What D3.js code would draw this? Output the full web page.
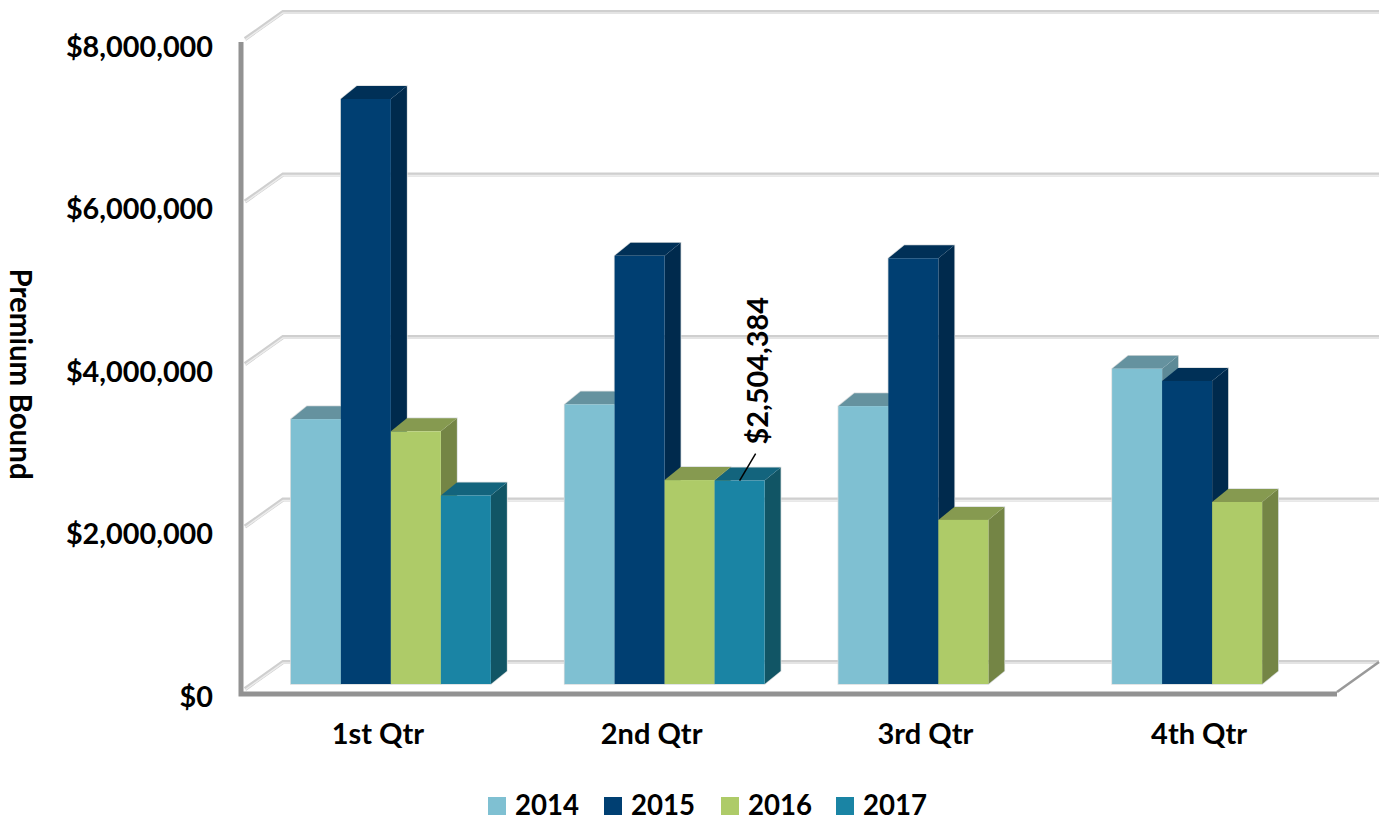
<!DOCTYPE html>
<html><head><meta charset="utf-8">
<script src="https://cdn.jsdelivr.net/npm/d3@7"></script>
<style>html,body{margin:0;padding:0;background:#fff}svg{display:block}text{font-family:Lato,"Open Sans",sans-serif;font-weight:700;fill:#000}</style>
</head><body><svg id="c" width="1385" height="821"></svg>
<script>
const categories = ["1st Qtr","2nd Qtr","3rd Qtr","4th Qtr"];
const seriesNames = ["2014","2015","2016","2017"];
const values2014 = [3260000,3440000,3420000,3880000];
const values2015 = [7200000,5270000,5240000,3730000];
const values2016 = [3110000,2510000,2020000,2240000];
const values2017 = [2320000,2504384,null,null];
const faceColors = ["#7fc0d2","#003f72","#aecb68","#1a84a4"];
const topColors = ["#65929f","#003057","#869a50","#13647d"];
const sideColors = ["#5d8a97","#002a4d","#748545","#115565"];
const yTicks = [0,2000000,4000000,6000000,8000000];

const svg = d3.select("#c");
const x = d3.scaleBand().domain(categories).range([241,1336]);
const y = d3.scaleLinear().domain([0,8000000]).range([692,42]);
const inner = d3.scaleBand().domain(seriesNames).range([0,200]);
const bandPad = (x.bandwidth()-inner.range()[1])/2;
const back = {dx:42,dy:-30}, plane = {dx:13,dy:-8}, depth = {dx:16,dy:-13};
const money = d3.format("$,");

const grid = svg.append("g").attr("fill","none");
yTicks.forEach(v=>{
  const yy=y(v);
  const d=`M${x.range()[0]+4},${yy-3}L${x.range()[0]+back.dx},${yy+back.dy}H${x.range()[1]+back.dx+1}`;
  grid.append("path").attr("d",d).attr("stroke","#cfcfcf").attr("stroke-width",4);
  grid.append("path").attr("d",d).attr("stroke","#ececec").attr("stroke-width",1.5).attr("transform","translate(0,1)");
});
const L=x.range()[0],R=x.range()[1]+1,B=y(0);
svg.append("path").attr("d",`M${R},${B}L${R+back.dx},${B+back.dy}`).attr("fill","none").attr("stroke","#999").attr("stroke-width",2.5);
svg.append("path").attr("d",`M${L},${y(8000000)}V${B+2}H${R}`).attr("fill","none").attr("stroke","#929292").attr("stroke-width",5);

const all=[values2014,values2015,values2016,values2017];
const halos=svg.append("g"), blocks=svg.append("g");
categories.forEach((c,ci)=>{
  const g=blocks.append("g");
  seriesNames.forEach((s,si)=>{
    const v=all[si][ci]; if(v==null) return;
    const x0=x(c)+bandPad+plane.dx+inner(s), x1=x0+inner.bandwidth();
    const yt=y(v)+plane.dy, yb=y(0)+plane.dy;
    // pale halo round the whole block, kept beneath every bar
    halos.append("path").attr("d",`M${x0},${yb}V${yt}L${x0+depth.dx},${yt+depth.dy}H${x1+depth.dx}V${yb+depth.dy}L${x1},${yb}Z`)
      .attr("fill","none").attr("stroke","#d8dcdd").attr("stroke-width",1.5);
    const bar=g.append("g");
    bar.append("path").attr("d",`M${x1},${yt}L${x1+depth.dx},${yt+depth.dy}V${yb+depth.dy}L${x1},${yb}Z`)
      .attr("fill",sideColors[si]);
    bar.append("path").attr("d",`M${x0},${yt}L${x0+depth.dx},${yt+depth.dy}H${x1+depth.dx}L${x1},${yt}Z`)
      .attr("fill",topColors[si]);
    bar.append("rect").attr("x",x0).attr("y",yt).attr("width",x1-x0).attr("height",yb-yt)
      .attr("fill",faceColors[si]);
  });
});

const yAxis=d3.axisLeft(y).tickValues(yTicks).tickSize(0).tickPadding(28).tickFormat(money);
const ya=svg.append("g").attr("transform",`translate(${L},0)`).call(yAxis);
ya.select(".domain").remove();
ya.selectAll("text").attr("font-size",28.8).attr("dy","0.5em").style("font-family","Lato");
const xAxis=d3.axisBottom(x).tickSize(0).tickPadding(31);
const xa=svg.append("g").attr("transform",`translate(0,${B})`).call(xAxis);
xa.select(".domain").remove();
xa.selectAll("text").attr("font-size",29);

svg.append("text").attr("transform","translate(10,374) rotate(90)").attr("text-anchor","middle").attr("font-size",29.5).text("Premium Bound");

const lx=x(categories[1])+bandPad+plane.dx+inner("2017")+inner.bandwidth()/2;
const ly=y(values2017[1])+plane.dy;
svg.append("line").attr("x1",lx).attr("y1",ly).attr("x2",lx+16).attr("y2",ly-27).attr("stroke","#000").attr("stroke-width",1.5);
svg.append("text").attr("transform",`translate(${lx+28},${ly-36}) rotate(-90)`).attr("font-size",28.9).text(money(values2017[1]));

const legendX=[488,604,721,836];
const lg=svg.append("g");
seriesNames.forEach((s,i)=>{
  lg.append("rect").attr("x",legendX[i]).attr("y",797).attr("width",18).attr("height",18).attr("fill",faceColors[i]);
  lg.append("text").attr("x",legendX[i]+27).attr("y",815).attr("font-size",27.6).text(s);
});
</script></body></html>
